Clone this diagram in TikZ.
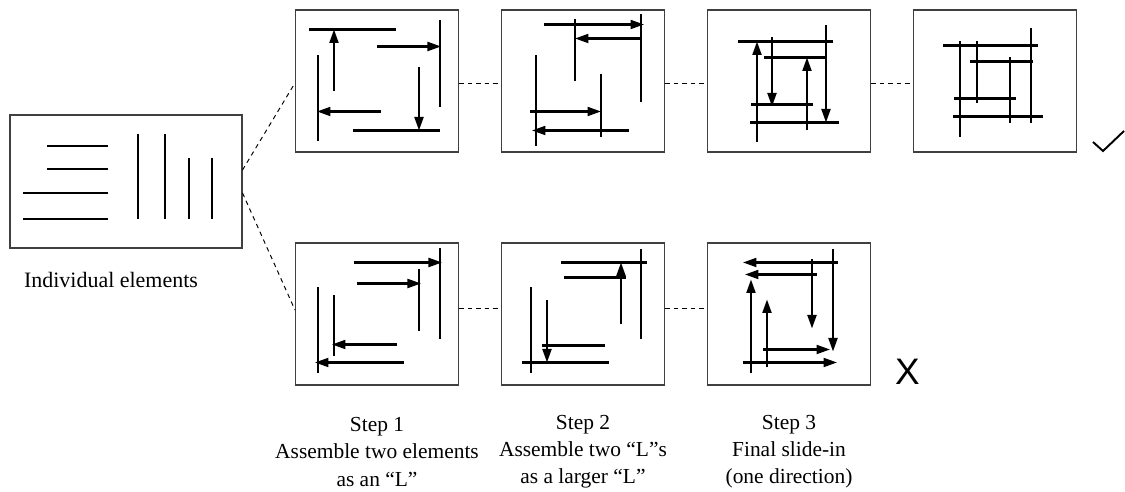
\documentclass[tikz,border=0pt]{standalone}
\usepackage{fontspec}
\setmainfont{Liberation Serif}
\setsansfont{Liberation Sans}
\usetikzlibrary{arrows.meta, positioning}
\tikzset{
  every picture/.style={line width=0.6pt},
  panel/.style={draw=black!75, line width=0.6pt, minimum width=3.26cm, minimum height=2.84cm, inner sep=0pt},
  elem/.style={line width=1.2pt},
  push/.style={elem, -{Triangle[length=0.27cm, width=0.18cm]}},
  link/.style={dash pattern=on 0.09cm off 0.08cm, line width=0.55pt},
  caption/.style={font=\fontsize{12.2}{15.4}\selectfont, align=center},
}

\begin{document}
\begin{tikzpicture}[x=0.02cm, y=-0.02cm]
  \useasboundingbox (0,0) rectangle (1125,492);
  % ---- loose elements ----
  \node[panel, minimum width=4.64cm, minimum height=2.66cm] (elems) at (126,181.5) {};
  \foreach \x/\y in {47/146, 47/169, 23/193, 23/219} \draw[elem] (\x,\y) -- (108,\y);
  \foreach \x/\y in {138/134, 165/134, 189/158, 212/158} \draw[elem] (\x,\y) -- (\x,219);
  \node[caption, font=\fontsize{12.5}{15}\selectfont] (elemtxt) at (111,280) {Individual elements};
  % ---- frames ----
  \foreach \n/\x in {1/377, 2/583, 3/789, 4/995} \node[panel] (t\n) at (\x,81) {};
  \foreach \n/\x in {1/377, 2/583, 3/789} \node[panel] (b\n) at (\x,314) {};
  % ---- top row: L-shapes ----
  \begin{scope}[shift={(t1.north west)}]
    \foreach \a/\b/\c/\d in {14/20/101/20, 145/11/145/98, 58/121/145/121, 23/46/23/132}
      \draw[elem] (\a,\b) -- (\c,\d);
    \foreach \a/\b/\c/\d in {39/82/39/20, 82/37/146/37, 124/58/124/121, 86/102/22/102}
      \draw[push] (\a,\b) -- (\c,\d);
  \end{scope}
  \begin{scope}[shift={(t2.north west)}]
    \foreach \a/\b/\c/\d in {140/5/140/93, 74/10/74/72, 100/65/100/128, 35/46/35/137}
      \draw[elem] (\a,\b) -- (\c,\d);
    \foreach \a/\b/\c/\d in {43/15/143/15, 140/29/74/29, 29/102/100/102, 128/121/31/121}
      \draw[push] (\a,\b) -- (\c,\d);
  \end{scope}
  \begin{scope}[shift={(t3.north west)}]
    \foreach \a/\b/\c/\d in {31/32/126/32, 57/48/120/48, 44/95/106/95, 43/113/132/113}
      \draw[elem] (\a,\b) -- (\c,\d);
    \foreach \a/\b/\c/\d in {50/133/50/32, 65/28/65/97, 100/121/100/48, 119/16/119/113}
      \draw[push] (\a,\b) -- (\c,\d);
  \end{scope}
  \begin{scope}[shift={(t4.north west)}]
    \foreach \a/\b/\c/\d in {30/36/125/36, 47/32/47/128, 64/32/64/94, 57/52/120/52,
                             97/48/97/114, 118/19/118/114, 41/89/103/89, 40/107/130/107}
      \draw[elem] (\a,\b) -- (\c,\d);
  \end{scope}
  % ---- bottom row: one-way slide ----
  \begin{scope}[shift={(b1.north west)}]
    \foreach \a/\b/\c/\d in {145/6/145/97, 124/27/124/89, 39/53/39/114, 23/45/23/131}
      \draw[elem] (\a,\b) -- (\c,\d);
    \foreach \a/\b/\c/\d in {59/20/147/20, 62/41/126/41, 102/102/37/102, 109/120/20/120}
      \draw[push] (\a,\b) -- (\c,\d);
  \end{scope}
  \begin{scope}[shift={(b2.north west)}]
    \foreach \a/\b/\c/\d in {60/20/146/20, 140/7/140/97, 63/35/125/35, 30/45/30/131,
                             41/103/104/103, 21/120/108/120}
      \draw[elem] (\a,\b) -- (\c,\d);
    \foreach \a/\b/\c/\d in {120/82/120/20, 46/58/46/120}
      \draw[push] (\a,\b) -- (\c,\d);
  \end{scope}
  \begin{scope}[shift={(b3.north west)}]
    \foreach \a/\b/\c/\d in {131/20/36/20, 110/32/38/32, 105/17/105/86, 126/7/126/109,
                             44/131/44/37, 60/125/60/57, 56/107/123/107, 36/120/130/120}
      \draw[push] (\a,\b) -- (\c,\d);
  \end{scope}
  % ---- dashed links ----
  \draw[link] ([yshift=0.23cm]elems.east) -- ([yshift=-0.04cm]t1.west);
  \draw[link] ([yshift=-0.23cm]elems.east) -- ([yshift=0.08cm]b1.west);
  \foreach \i/\j in {1/2, 2/3, 3/4} \draw[link] ([yshift=-0.04cm]t\i.east) -- ([yshift=-0.04cm]t\j.west);
  \foreach \i/\j in {1/2, 2/3} \draw[link] ([yshift=0.12cm]b\i.east) -- ([yshift=0.12cm]b\j.west);
  % ---- outcome marks ----
  \draw[line width=1.1pt] (1093,142) -- (1103,151) -- (1124,131);
  \node[font=\sffamily\fontsize{21}{21}\selectfont, inner sep=0pt] (cross) at (907.5,371.5) {X};
  % ---- step captions ----
  \node[caption] (s1) at (377,452) {Step 1\\Assemble two elements\\as an “L”};
  \node[caption] (s2) at (583,452) {Step 2\\Assemble two “L”s\\as a larger “L”};
  \node[caption] (s3) at (789,452) {Step 3\\Final slide-in\\(one direction)};
\end{tikzpicture}
\end{document}
